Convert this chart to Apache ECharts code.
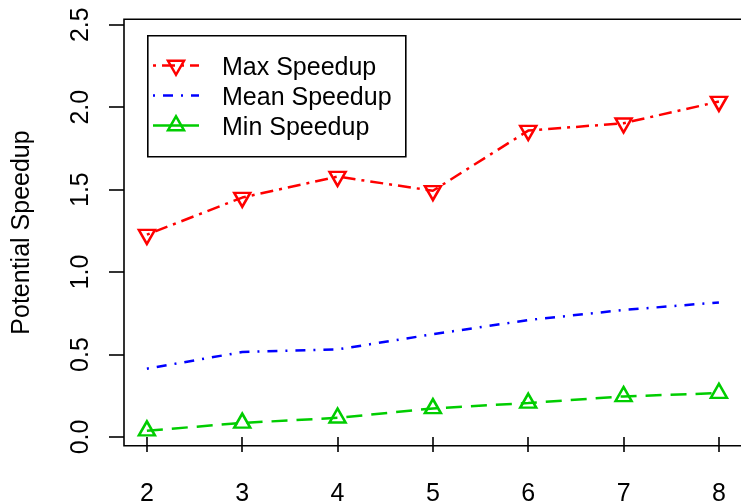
<!DOCTYPE html>
<html>
<head>
<meta charset="utf-8">
<script src="https://cdn.jsdelivr.net/npm/echarts@6/dist/echarts.min.js"></script>
<style>
  html, body { margin: 0; padding: 0; background: #fff; }
  #chart { width: 741px; height: 504px; }
</style>
</head>
<body>
<div id="chart"></div>
<script>
// Number of threads / configuration on the x axis
const xValues = [2, 3, 4, 5, 6, 7, 8];
// Speedup estimates per configuration
const maxSpeedup  = [1.227, 1.452, 1.579, 1.493, 1.858, 1.903, 2.034];
const meanSpeedup = [0.414, 0.515, 0.531, 0.623, 0.709, 0.770, 0.816];
const minSpeedup  = [0.038, 0.085, 0.116, 0.173, 0.206, 0.246, 0.266];
// Axis tick positions
const xTicks = [2, 3, 4, 5, 6, 7, 8];
const yTicks = [0, 0.5, 1, 1.5, 2, 2.5];
const seriesNames = ['Max Speedup', 'Mean Speedup', 'Min Speedup'];

const RED = '#FF0000', BLUE = '#0000FF', GREEN = '#00CD00';
const FONT = 'Liberation Sans, Arial, Helvetica, sans-serif';
const FS = 25;

const pairs = (ys) => xValues.map((x, i) => [x, ys[i]]);

const chart = echarts.init(document.getElementById('chart'), null, { renderer: 'canvas' });

// Legend drawn as a boxed key in the upper-left of the plot
const legendRows = [
  { name: seriesNames[0], y: 65.5, color: RED, dash: [3, 6, 13, 6], width: 2.5, marker: 'down' },
  { name: seriesNames[1], y: 95.5, color: BLUE, dash: [2, 8, 10, 8], width: 2.5, marker: null },
  { name: seriesNames[2], y: 125.6, color: GREEN, dash: null, width: 2.5, marker: 'up' }
];
const legendGraphics = [{
  type: 'rect', left: 147, top: 35, z: 50,
  shape: { width: 258, height: 121 },
  style: { fill: '#fff', stroke: '#000', lineWidth: 1.6 }
}];
legendRows.forEach(r => {
  legendGraphics.push({
    type: 'line', z: 51,
    shape: { x1: 153, y1: r.y, x2: 199, y2: r.y },
    style: { stroke: r.color, lineWidth: r.width, lineDash: r.dash || null }
  });
  if (r.marker === 'down') {
    legendGraphics.push({
      type: 'polygon', z: 52,
      shape: { points: [[168, r.y - 4.7], [184, r.y - 4.7], [176, r.y + 9.3]] },
      style: { fill: 'none', stroke: r.color, lineWidth: 2.5 }
    });
  } else if (r.marker === 'up') {
    legendGraphics.push({
      type: 'polygon', z: 52,
      shape: { points: [[168, r.y + 4.7], [184, r.y + 4.7], [176, r.y - 9.3]] },
      style: { fill: 'none', stroke: r.color, lineWidth: 2.5 }
    });
  }
  legendGraphics.push({
    type: 'text', z: 52, x: 222, y: r.y + 2.5,
    style: { text: r.name, fill: '#000', font: FS + 'px ' + FONT, textVerticalAlign: 'middle', textAlign: 'left' }
  });
});

const option = {
  animation: false,
  backgroundColor: '#fff',
  textStyle: { fontFamily: FONT },
  grid: {
    show: true,
    left: 124, top: 19.3, width: 617.8, height: 426.4,
    borderColor: '#000', borderWidth: 1.6,
    backgroundColor: 'transparent',
    containLabel: false,
    outerBoundsMode: 'none'
  },
  xAxis: {
    type: 'value',
    min: 1.76, max: 8.24,
    axisLine: { show: false },
    splitLine: { show: false },
    axisTick: { show: true, customValues: xTicks, length: 15, lineStyle: { color: '#000', width: 1.6 } },
    axisLabel: {
      customValues: xTicks, margin: 36, color: '#000', fontSize: FS, fontFamily: FONT,
      formatter: v => String(v)
    }
  },
  yAxis: {
    type: 'value',
    min: -0.053, max: 2.533,
    axisLine: { show: false },
    splitLine: { show: false },
    axisTick: { show: true, customValues: yTicks, length: 15, lineStyle: { color: '#000', width: 1.6 } },
    axisLabel: {
      customValues: yTicks, rotate: 90, margin: 30, color: '#000', fontSize: FS, fontFamily: FONT,
      formatter: v => v.toFixed(1)
    },
    name: 'Potential Speedup',
    nameLocation: 'middle',
    nameRotate: 90,
    nameGap: 89,
    nameTextStyle: { color: '#000', fontSize: FS, fontFamily: FONT }
  },
  series: [
    {
      name: seriesNames[0], type: 'line', data: pairs(maxSpeedup),
      symbol: 'triangle', symbolRotate: 180, symbolSize: [16, 14], symbolOffset: [0, 2.3],
      showAllSymbol: true,
      itemStyle: { color: 'rgba(0,0,0,0)', borderColor: RED, borderWidth: 2.5 },
      lineStyle: { color: RED, width: 2.5, type: [3, 6, 13, 6] },
      z: 3
    },
    {
      name: seriesNames[1], type: 'line', data: pairs(meanSpeedup),
      symbol: 'none',
      lineStyle: { color: BLUE, width: 2.5, type: [2, 8, 10, 8] },
      z: 2
    },
    {
      name: seriesNames[2], type: 'line', data: pairs(minSpeedup),
      symbol: 'triangle', symbolSize: [16, 14], symbolOffset: [0, -2.3],
      showAllSymbol: true,
      itemStyle: { color: 'rgba(0,0,0,0)', borderColor: GREEN, borderWidth: 2.5 },
      lineStyle: { color: GREEN, width: 2.5, type: [16, 9] },
      z: 2
    }
  ],
  graphic: legendGraphics
};

chart.setOption(option);
</script>
</body>
</html>
